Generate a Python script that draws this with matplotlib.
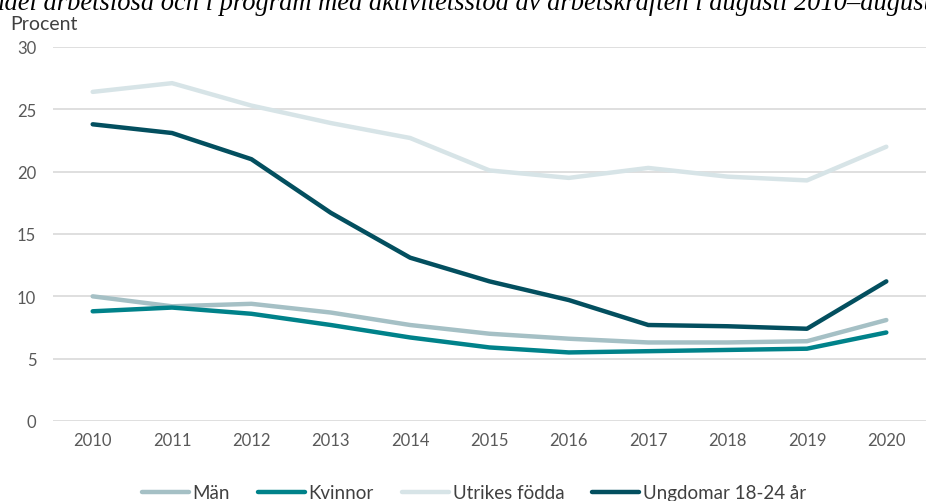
import matplotlib.pyplot as plt

# data
years = [2010, 2011, 2012, 2013, 2014, 2015, 2016, 2017, 2018, 2019, 2020]
man = [10.0, 9.2, 9.4, 8.7, 7.7, 7.0, 6.6, 6.3, 6.3, 6.4, 8.1]
kvinnor = [8.8, 9.1, 8.6, 7.7, 6.7, 5.9, 5.5, 5.6, 5.7, 5.8, 7.1]
utrikes = [26.4, 27.1, 25.3, 23.9, 22.7, 20.1, 19.5, 20.3, 19.6, 19.3, 22.0]
ungdomar = [23.8, 23.1, 21.0, 16.7, 13.1, 11.2, 9.7, 7.7, 7.6, 7.4, 11.2]

series = [
    ("Män", man, "#a5c0c5"),
    ("Kvinnor", kvinnor, "#00828a"),
    ("Utrikes födda", utrikes, "#d7e4e7"),
    ("Ungdomar 18-24 år", ungdomar, "#034f5f"),
]

plt.rcParams['font.family'] = ['Lato', 'DejaVu Sans']

fig = plt.figure(figsize=(9.26, 5.02), dpi=100)
ax = fig.add_axes([53 / 926, 1 - 422 / 502, 1 - 53 / 926, 374 / 502])

for name, vals, col in series:
    ax.plot(range(len(years)), vals, color=col, lw=3.2, label=name,
            solid_capstyle='round', solid_joinstyle='round')

ax.set_xlim(-0.5, len(years) - 0.5)
ax.set_ylim(0, 30)
ax.set_yticks(range(0, 31, 5))
ax.set_xticks(range(len(years)))
ax.set_xticklabels([str(y) for y in years])
ax.grid(axis='y', color='#d9d9d9', lw=1.2)
ax.set_axisbelow(True)
for s in ax.spines.values():
    s.set_visible(False)
ax.tick_params(length=0, labelsize=12, colors='#595959', pad=8)
ax.tick_params(axis='y', pad=12)

# title is clipped at the top edge in the reference
fig.text(-25 / 926, 1 - 10 / 502,
         "Andel arbetslösa och i program med aktivitetsstöd av arbetskraften i augusti 2010–augusti 2020",
         family='Liberation Serif', style='italic', fontsize=19.1, va='baseline', ha='left', color='black')
fig.text(10 / 926, 1 - 30 / 502, "Procent", fontsize=14, color='#404040', va='baseline')

fig.legend(loc='center', bbox_to_anchor=(474 / 926, 1 - 494 / 502), ncol=4, frameon=False,
           fontsize=13.5, handlelength=2.5, handletextpad=0.2, columnspacing=1.5,
           labelcolor='#404040')

fig.savefig("out.png", dpi=100)
